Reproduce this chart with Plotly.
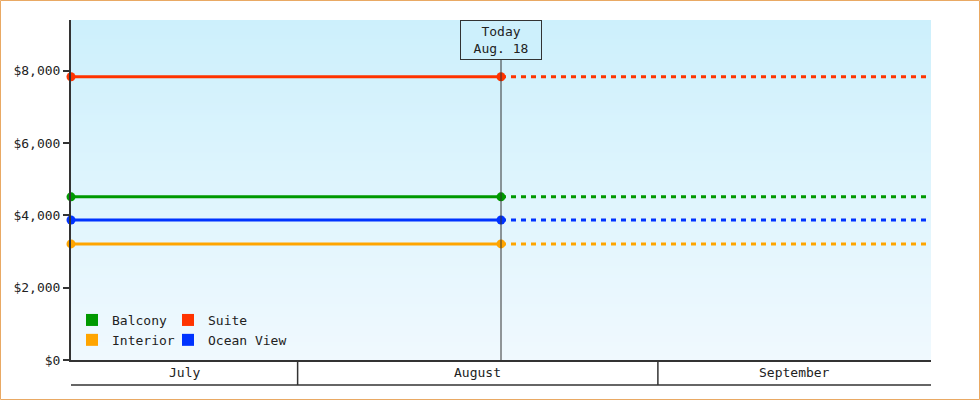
import plotly.graph_objects as go
from datetime import datetime

# ---- data ----
series_names = ["Balcony", "Suite", "Interior", "Ocean View"]
series_values = [4510, 7830, 3210, 3870]
today_label = "Today<br>Aug. 18"
today_date = "2024-08-18 12:00"
range_start = "2024-07-12 12:00"
range_end = "2024-09-24 12:00"
month_labels = ["July", "August", "September"]
month_starts = ["2024-08-01", "2024-09-01"]
y_max = 9400

# ---- style ----
colors = {"Balcony": "#009900", "Suite": "#ff3300", "Interior": "#ffa500", "Ocean View": "#0033ff"}
legend_of = {"Balcony": "legend", "Interior": "legend", "Suite": "legend2", "Ocean View": "legend2"}
FONT = "DejaVu Sans Mono"
TXT = "#222222"
AX = "#333333"

L, R, T, B = 71, 49, 20, 40
W, H = 980, 400
PW, PH = W - L - R, H - T - B

def px_to_paper_x(px):
    return (px - L) / PW

def px_to_paper_y(py):
    return (H - B - py) / PH

fig = go.Figure()

# gradient background
fig.add_trace(go.Heatmap(
    x=[range_start, range_end], y=[0, y_max], z=[[0, 0], [1, 1]],
    zsmooth="best", colorscale=[[0, "#f0f9fe"], [1, "#cdf0fc"]],
    showscale=False, hoverinfo="skip"))

for name, val in zip(series_names, series_values):
    c = colors[name]
    fig.add_trace(go.Scatter(
        x=[range_start, today_date], y=[val, val], mode="lines+markers",
        line=dict(color=c, width=3), marker=dict(size=9, color=c),
        showlegend=False, cliponaxis=False, hoverinfo="skip"))
    fig.add_trace(go.Scatter(
        x=[today_date, range_end], y=[val, val], mode="lines",
        line=dict(color=c, width=3, dash="5px,5px"),
        showlegend=False, hoverinfo="skip"))

# legend entries (square swatches), column order: Balcony/Interior, Suite/Ocean View
for name in ["Balcony", "Interior", "Suite", "Ocean View"]:
    fig.add_trace(go.Scatter(
        x=[None], y=[None], mode="markers", name=name,
        marker=dict(symbol="square", size=11, color=colors[name]),
        legend=legend_of[name], showlegend=True))

shapes = []
# today vertical line
shapes.append(dict(type="line", xref="x", yref="paper", x0=today_date, x1=today_date,
                   y0=0, y1=px_to_paper_y(60), line=dict(color=AX, width=1)))
# month band
band_y = px_to_paper_y(385)
shapes.append(dict(type="line", xref="paper", yref="paper", x0=0, x1=1, y0=band_y, y1=band_y,
                   line=dict(color=AX, width=1.5)))
for ms in month_starts:
    shapes.append(dict(type="line", xref="x", yref="paper", x0=ms, x1=ms, y0=0, y1=band_y,
                       line=dict(color=AX, width=1.5)))
# outer border
shapes.append(dict(type="rect", xref="paper", yref="paper",
                   x0=px_to_paper_x(0.5), x1=px_to_paper_x(979.5),
                   y0=px_to_paper_y(399.5), y1=px_to_paper_y(0.5),
                   line=dict(color="#e9a964", width=1), layer="below"))

def mid(a, b):
    da = datetime.fromisoformat(a)
    db = datetime.fromisoformat(b)
    return (da + (db - da) / 2).isoformat(sep=" ")

bounds = [range_start] + month_starts + [range_end]
annotations = []
for i, lab in enumerate(month_labels):
    annotations.append(dict(x=mid(bounds[i], bounds[i + 1]), xref="x", yref="paper",
                            y=px_to_paper_y(372.5), text=lab, showarrow=False,
                            xanchor="center", yanchor="middle",
                            font=dict(family=FONT, size=13, color=TXT)))
annotations.append(dict(x=today_date, xref="x", yref="paper", y=1, yanchor="top",
                        xanchor="center", text=today_label, showarrow=False,
                        width=78, height=36, bordercolor=AX, borderwidth=1, borderpad=1,
                        bgcolor="#cdf0fc", font=dict(family=FONT, size=13, color=TXT)))

legend_common = dict(orientation="v", xanchor="left", yanchor="top",
                     bgcolor="rgba(0,0,0,0)", itemsizing="constant",
                     tracegroupgap=0, font=dict(family=FONT, size=13, color=TXT))

fig.update_layout(
    width=W, height=H, margin=dict(l=L, r=R, t=T, b=B),
    paper_bgcolor="white", plot_bgcolor="#f0f9fe",
    font=dict(family=FONT, size=13, color=TXT),
    shapes=shapes, annotations=annotations,
    xaxis=dict(type="date", range=[range_start, range_end], showticklabels=False,
               ticks="", showgrid=False, zeroline=False, showline=True,
               linecolor=AX, linewidth=1.5),
    yaxis=dict(range=[0, y_max], dtick=2000, tickprefix="$", tickformat=",d",
               ticks="outside", ticklen=6, tickwidth=2, tickcolor=AX,
               showgrid=False, zeroline=False, showline=True, linecolor=AX, linewidth=2),
    legend=dict(x=px_to_paper_x(72), y=px_to_paper_y(305), **legend_common),
    legend2=dict(x=px_to_paper_x(168), y=px_to_paper_y(305), **legend_common),
    showlegend=True,
)

fig.write_html("out.html", config={"displayModeBar": False},
               post_script="document.body.style.margin='0';")
